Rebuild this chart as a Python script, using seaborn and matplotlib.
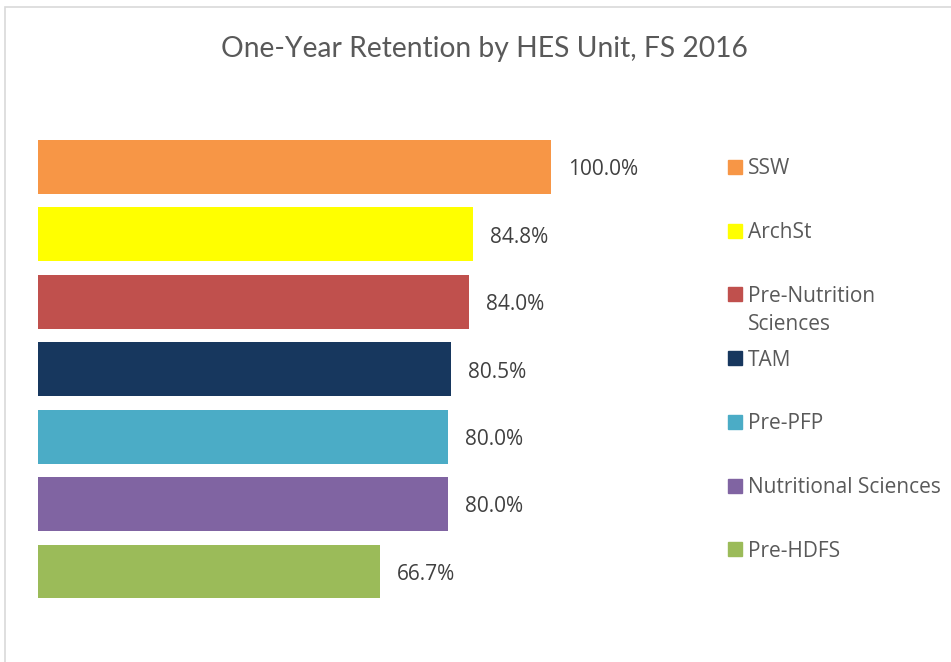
import pandas as pd
import matplotlib.pyplot as plt
from matplotlib.patches import Rectangle
import seaborn as sns

units = ["SSW", "ArchSt", "Pre-Nutrition Sciences", "TAM", "Pre-PFP",
         "Nutritional Sciences", "Pre-HDFS"]
legend_labels = ["SSW", "ArchSt", "Pre-Nutrition\nSciences", "TAM", "Pre-PFP",
                 "Nutritional Sciences", "Pre-HDFS"]
retention = [100.0, 84.8, 84.0, 80.5, 80.0, 80.0, 66.7]
colors = ["#F79646", "#FFFF00", "#C0504D", "#17375E", "#4BACC6", "#8064A2", "#9BBB59"]

df = pd.DataFrame({"unit": units, "retention": retention})

sns.set_style("white")
plt.rcParams['font.family'] = ['Open Sans', 'DejaVu Sans']
text_col = "#595959"

W, H = 951, 662
fig = plt.figure(figsize=(W / 100, H / 100), dpi=100)
ax = fig.add_axes([38 / W, 1 - 605.2 / H, 513 / W, 471.9 / H])

sns.barplot(data=df, x="retention", y="unit", hue="unit", palette=colors,
            orient="h", width=0.8, legend=False, ax=ax, saturation=1,
            linewidth=0)
ax.set_xlim(0, 100)
ax.set_ylim(6.5, -0.5)
ax.axis("off")

# value labels
for i, v in enumerate(retention):
    ax.annotate(f"{v:.1f}%", (v, i), xytext=(12, -2), textcoords="offset points",
                va="center", ha="left", fontsize=15, color="#404040")

# title
fig.text(484 / W, 1 - 49 / H, "One-Year Retention by HES Unit, FS 2016",
         ha="center", va="center", fontsize=20.3, color=text_col,
         family=["Lato", "DejaVu Sans"])

# legend drawn by hand so the square sits on the first line
for i, (lab, c) in enumerate(zip(legend_labels, colors)):
    yc = 167 + i * 63.7
    fig.add_artist(Rectangle((728 / W, 1 - (yc + 7) / H), 14 / W, 14 / H,
                             transform=fig.transFigure, color=c))
    fig.text(748 / W, 1 - (yc - 8.5) / H, lab, ha="left", va="top",
             fontsize=15, color=text_col, linespacing=1.43)

# chart border (only left/top visible)
fig.add_artist(Rectangle((5 / W, -0.1), 1.2, 1 - 7 / H + 0.1,
                         transform=fig.transFigure, fill=False,
                         edgecolor="#D9D9D9", linewidth=1.2))

plt.savefig("out.png", dpi=100)
